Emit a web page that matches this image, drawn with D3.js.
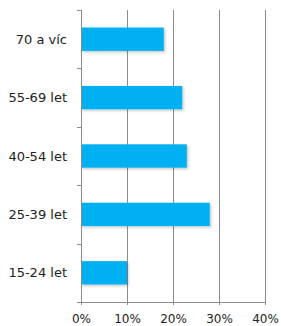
<!DOCTYPE html>
<html lang="cs">
<head>
<meta charset="UTF-8">
<script src="https://cdn.jsdelivr.net/npm/d3@7"></script>
<style>
  body { margin: 0; background: #fff; }
  text { font-family: "DejaVu Sans", sans-serif; fill: #222; }
  .grid line { stroke: #8c8c8c; stroke-width: 1; }
  .axis path, .axis line { stroke: #8c8c8c; stroke-width: 1; shape-rendering: crispEdges; }
</style>
</head>
<body>
<svg width="281" height="326"></svg>
<script>
// data
var categories = ["70 a víc", "55-69 let", "40-54 let", "25-39 let", "15-24 let"];
var values = [18, 22, 23, 28, 10];
var ticks = [0, 10, 20, 30, 40];

var svg = d3.select("svg");
var margin = {top: 10, left: 81, right: 16, bottom: 24};
var width = 265 - margin.left,
    height = 302 - margin.top;

var g = svg.append("g")
  .attr("transform", "translate(" + margin.left + "," + margin.top + ")");

var x = d3.scaleLinear().domain([0, 40]).range([0, width]);
var y = d3.scaleBand().domain(categories).range([0, height]).paddingInner(0.6).paddingOuter(0.3);

var defs = svg.append("defs");
var f = defs.append("filter").attr("id", "shadow").attr("x", "-10%").attr("y", "-20%").attr("width", "130%").attr("height", "160%");
f.append("feDropShadow").attr("dx", 1.5).attr("dy", 1.5).attr("stdDeviation", 1).attr("flood-color", "#000").attr("flood-opacity", 0.22);

// gridlines
g.append("g").attr("class", "grid")
  .selectAll("line").data(ticks.slice(1)).enter().append("line")
  .attr("x1", function(d) { return Math.round(x(d)) + 0.5; })
  .attr("x2", function(d) { return Math.round(x(d)) + 0.5; })
  .attr("y1", 0).attr("y2", height);

// bars
g.selectAll(".bar").data(values).enter().append("rect")
  .attr("class", "bar")
  .attr("x", 0)
  .attr("y", function(d, i) { return y(categories[i]); })
  .attr("width", function(d) { return x(d); })
  .attr("height", y.bandwidth())
  .attr("fill", "#00b0f0")
  .attr("filter", "url(#shadow)");

// left axis with ticks at band boundaries
var step = height / categories.length;
var yAxisG = g.append("g").attr("class", "axis");
yAxisG.append("line").attr("x1", 0.5).attr("x2", 0.5).attr("y1", 0).attr("y2", height + 3);
yAxisG.selectAll(".tk").data(d3.range(categories.length + 1)).enter().append("line")
  .attr("x1", -4).attr("x2", 0)
  .attr("y1", function(i) { return Math.round(i * step) + 0.5; })
  .attr("y2", function(i) { return Math.round(i * step) + 0.5; });
yAxisG.selectAll(".lbl").data(categories).enter().append("text")
  .attr("x", -14)
  .attr("y", function(d) { return y(d) + y.bandwidth() / 2; })
  .attr("dy", "0.36em")
  .attr("text-anchor", "end")
  .style("font-size", "13px")
  .text(function(d) { return d; });

// bottom axis
var xAxis = d3.axisBottom(x).tickValues(ticks).tickSize(3).tickFormat(function(d) { return d + "%"; });
var xg = g.append("g").attr("class", "axis")
  .attr("transform", "translate(0," + height + ")")
  .call(xAxis);
xg.select(".domain").attr("stroke", "#8c8c8c");
xg.selectAll("text").attr("y", 21).attr("dy", 0)
  .style("font-family", "\"DejaVu Sans\", sans-serif").style("font-size", "12px").style("fill", "#222");
</script>
</body>
</html>
